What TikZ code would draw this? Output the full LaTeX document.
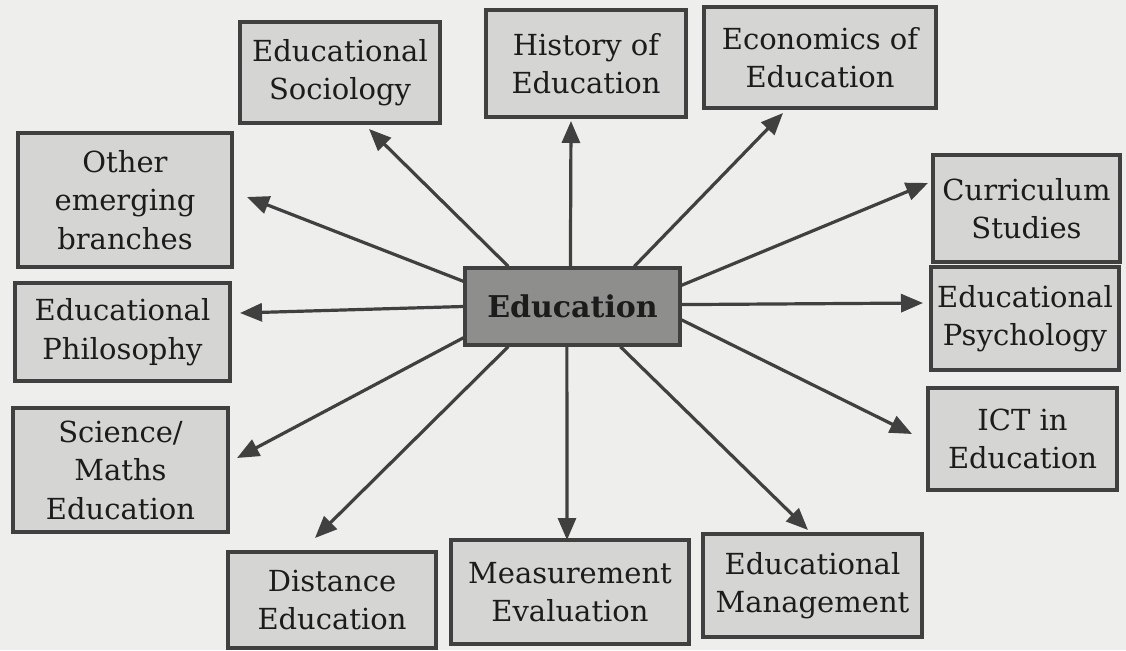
\documentclass[tikz,border=0pt]{standalone}
\usepackage{fontspec}
\setmainfont{DejaVu Serif}
\usetikzlibrary{arrows.meta}
\definecolor{paper}{HTML}{EEEEEC}
\definecolor{boxfill}{HTML}{D5D5D3}
\definecolor{hubfill}{HTML}{8E8E8C}
\definecolor{edge}{HTML}{404040}
\definecolor{ink}{HTML}{1C1C1C}
\begin{document}
\begin{tikzpicture}[x=1pt,y=-1pt,
  branch/.style={draw=edge, fill=boxfill, line width=3.3pt, align=center,
    inner sep=0pt, text=ink, font=\fontsize{29}{38.5}\selectfont},
  hub/.style={branch, fill=hubfill, font=\fontsize{30}{38}\selectfont\bfseries},
  ray/.style={draw=edge, line width=3.2pt,
    -{Triangle[length=22pt,width=18pt]}}]
\useasboundingbox (0,0) rectangle (1126,650);
\fill[paper] (0,0) rectangle (1126,650);

% central node
\node[hub, minimum width=215pt, minimum height=77pt] (edu) at (572.5,306.5) {Education};

% branches, top row
\node[branch, minimum width=200pt, minimum height=101pt] (soc)  at (340,72.5)   {Educational\\Sociology};
\node[branch, minimum width=200pt, minimum height=107pt] (hist) at (586,63.5)   {History of\\Education};
\node[branch, minimum width=232pt, minimum height=101pt] (econ) at (820,57.5)   {Economics of\\Education};
% left column
\node[branch, minimum width=214pt, minimum height=134pt] (other) at (125,200)   {Other\\emerging\\branches};
\node[branch, minimum width=215pt, minimum height=98pt]  (phil)  at (122.5,332) {Educational\\Philosophy};
\node[branch, minimum width=215pt, minimum height=124pt] (sci)   at (120.5,470) {Science/\\Maths\\Education};
% right column
\node[branch, minimum width=187pt, minimum height=107pt] (curr) at (1026.5,208.5) {Curriculum\\Studies};
\node[branch, minimum width=188pt, minimum height=103pt] (psy)  at (1025,318.5)   {Educational\\Psychology};
\node[branch, minimum width=189pt, minimum height=102pt] (ict)  at (1022.5,439)   {ICT in\\Education};
% bottom row
\node[branch, minimum width=208pt, minimum height=96pt]  (dist) at (332,600)   {Distance\\Education};
\node[branch, minimum width=238pt, minimum height=104pt] (meas) at (570,592)   {Measurement\\Evaluation};
\node[branch, minimum width=219pt, minimum height=103pt] (mgmt) at (812.5,585.5) {Educational\\Management};

% arrow tips
\coordinate (tSoc)   at (369,129);
\coordinate (tHist)  at (571,121);
\coordinate (tEcon)  at (783,113);
\coordinate (tCurr)  at (928,183);
\coordinate (tPsy)   at (923,303);
\coordinate (tIct)   at (912,434);
\coordinate (tMgmt)  at (808,530);
\coordinate (tMeas)  at (567,540);
\coordinate (tDist)  at (315,538);
\coordinate (tSci)   at (237,458);
\coordinate (tPhil)  at (240,313);
\coordinate (tOther) at (247,197);

% rays from the hub
\draw[ray] (edu.148.4) -- (tSoc);
\draw[ray] (edu.93.7)  -- (tHist);
\draw[ray] (edu.33.8)  -- (tEcon);
\draw[ray] (edu.11.3)  -- (tCurr);
\draw[ray] (edu.1.3)   -- (tPsy);
\draw[ray] (edu.-7.2)  -- (tIct);
\draw[ray] (edu.-40.9) -- (tMgmt);
\draw[ray] (edu.-98.1) -- (tMeas);
\draw[ray] (edu.212.5) -- (tDist);
\draw[ray] (edu.196.3) -- (tSci);
\draw[ray] (edu.180.8) -- (tPhil);
\draw[ray] (edu.167.7) -- (tOther);
\end{tikzpicture}
\end{document}
